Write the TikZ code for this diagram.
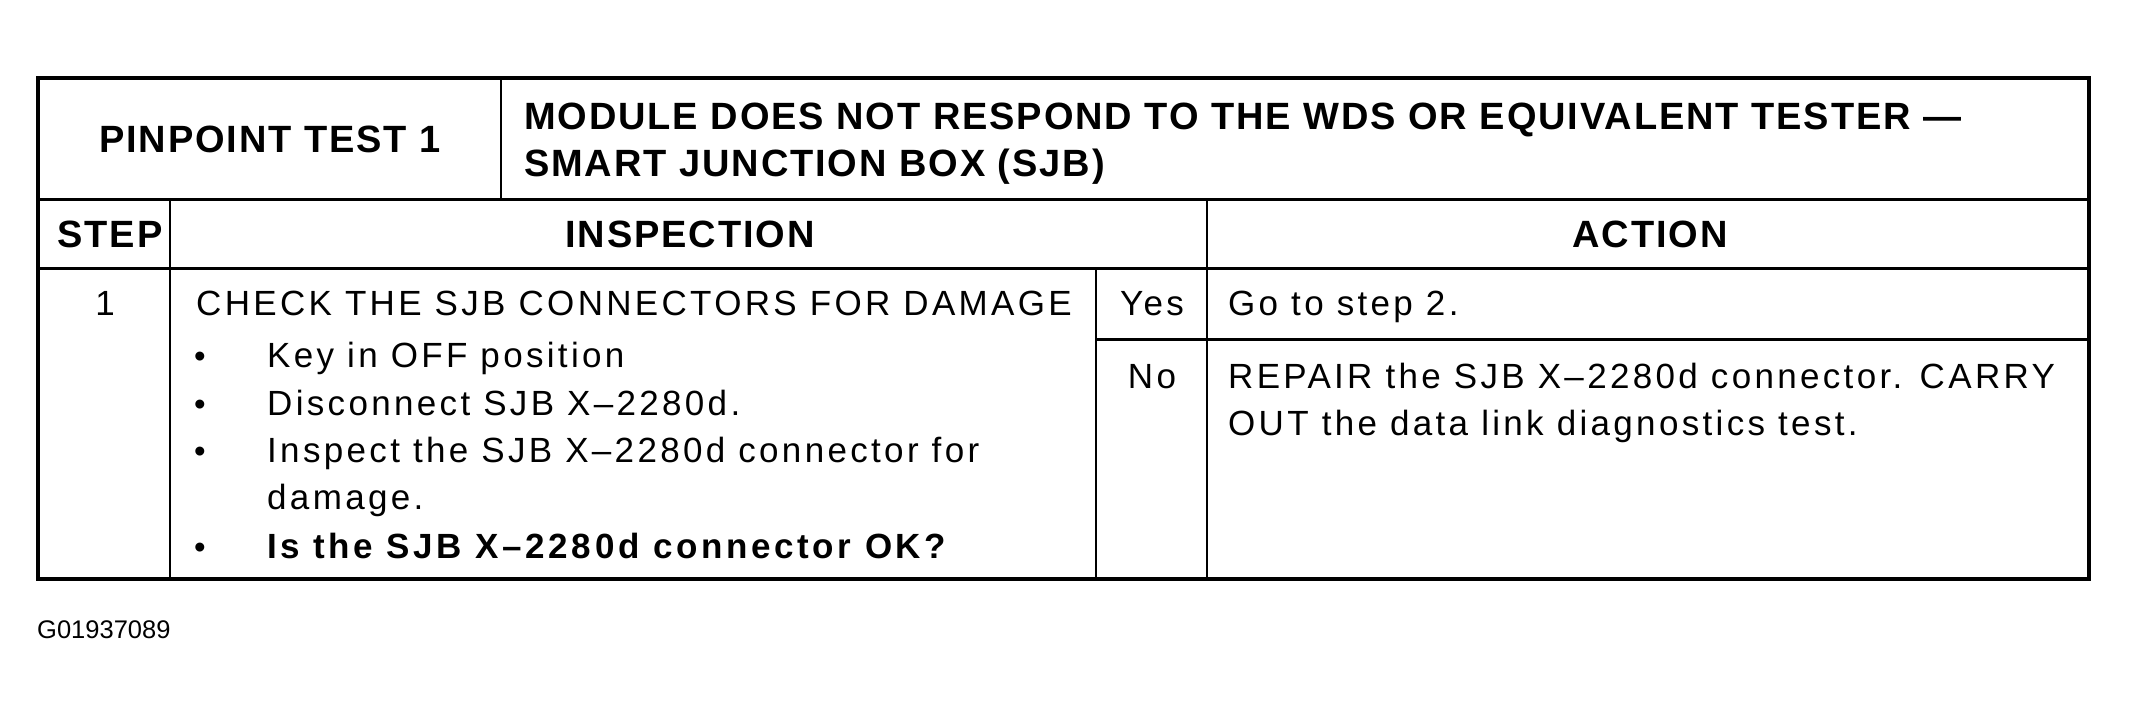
\documentclass[tikz,border=0pt]{standalone}
\usepackage{fontspec}
\setmainfont{Liberation Sans}
\newfontfamily\headfont[LetterSpace=5]{Liberation Sans}
\newfontfamily\bodyfont[LetterSpace=9.5]{Liberation Sans}
\newfontfamily\askfont[LetterSpace=10.5]{Liberation Sans}
\tikzset{
        headtext/.style={inner sep=0pt, font=\headfont\bfseries\fontsize{38}{44}\selectfont},
        bodytext/.style={inner sep=0pt, anchor=base west, font=\bodyfont\fontsize{35}{40}\selectfont},
        bulletmark/.style={inner sep=0pt, anchor=base, font=\fontsize{33}{38}\selectfont},
        outerline/.style={line width=4pt},
        rowline/.style={line width=3pt},
        colline/.style={line width=2pt}
}
\begin{document}
\begin{tikzpicture}[x=1pt, y=-1pt]
        \fill[white] (0,0) rectangle (2129,701);
        \useasboundingbox (0,0) rectangle (2129,701);

        \draw[rowline] (38,199) -- (2089,199);
        \draw[rowline] (38,268) -- (2089,268);
        \draw[rowline] (1096,339) -- (2089,339);
        \draw[colline] (501,78) -- (501,199);
        \draw[colline] (170,199) -- (170,579);
        \draw[colline] (1207,199) -- (1207,579);
        \draw[colline] (1096,268) -- (1096,579);
        \draw[outerline] (38,78) rectangle (2089,579);

        \node[headtext] (pintest) at (270,139) {PINPOINT TEST 1};
        \node[headtext, anchor=base west] (titleA) at (524,129) {MODULE DOES NOT RESPOND TO THE WDS OR EQUIVALENT TESTER —};
        \node[headtext, anchor=base west] (titleB) at (524,176) {SMART JUNCTION BOX (SJB)};
        \node[headtext, anchor=base] (stephead) at (110,247) {STEP};
        \node[headtext, anchor=base] (insphead) at (690,247) {INSPECTION};
        \node[headtext, anchor=base] (acthead) at (1650,247) {ACTION};

        \node[bodytext, anchor=base] (stepnum) at (105,315) {1};
        \node[bodytext] (check) at (196,315) {CHECK THE SJB CONNECTORS FOR DAMAGE};
        \node[bulletmark] (dotA) at (200,367) {•};
        \node[bodytext] (keyoff) at (267,367) {Key in OFF position};
        \node[bulletmark] (dotB) at (200,415) {•};
        \node[bodytext] (disconn) at (267,415) {Disconnect SJB X–2280d.};
        \node[bulletmark] (dotC) at (200,462) {•};
        \node[bodytext] (inspA) at (267,462) {Inspect the SJB X–2280d connector for};
        \node[bodytext] (inspB) at (267,509) {damage.};
        \node[bulletmark] (dotD) at (200,558) {•};
        \node[bodytext, font=\askfont\bfseries\fontsize{35}{40}\selectfont] (askok) at (267,558) {Is the SJB X–2280d connector OK?};

        \node[bodytext, anchor=base] (yes) at (1152,315) {Yes};
        \node[bodytext] (goto) at (1228,315) {Go to step 2.};
        \node[bodytext, anchor=base] (no) at (1152,388) {No};
        \node[bodytext] (repairA) at (1228,388) {REPAIR the SJB X–2280d connector. CARRY};
        \node[bodytext] (repairB) at (1228,435) {OUT the data link diagnostics test.};

        \node[inner sep=0pt, anchor=base west, font=\fontsize{25.5}{30}\selectfont] (figid) at (37,638) {G01937089};
\end{tikzpicture}
\end{document}
